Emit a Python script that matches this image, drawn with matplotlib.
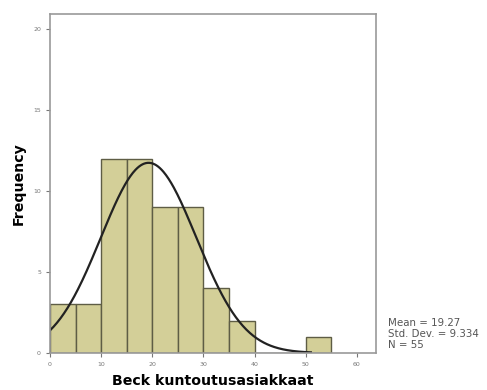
import numpy as np
import matplotlib
matplotlib.use("Agg")
import matplotlib.pyplot as plt

# histogram bins (width 5) and counts
bin_left = [0, 5, 10, 15, 20, 25, 30, 35, 40, 45, 50]
counts = [3, 3, 12, 12, 9, 9, 4, 2, 0, 0, 1]
bin_width = 5
mean, sd, n = 19.27, 9.334, 55

x_ticks = [0, 10, 20, 30, 40, 50, 60]
y_ticks = [0, 5, 10, 15, 20]

fig = plt.figure(figsize=(4.87, 3.90), dpi=100)
ax = fig.add_axes([0.1027, 0.095, 0.669, 0.869])

ax.bar(bin_left, counts, width=bin_width, align="edge",
       color="#d3cf98", edgecolor="#5e5d45", linewidth=1.0)

xs = np.linspace(0, 51, 300)
ys = n * bin_width / (sd * np.sqrt(2 * np.pi)) * np.exp(-0.5 * ((xs - mean) / sd) ** 2)
ax.plot(xs, ys, color="#222222", linewidth=1.6)

ax.set_xlim(0, 63.7)
ax.set_ylim(0, 20.95)
ax.set_xticks(x_ticks)
ax.set_yticks(y_ticks)
ax.tick_params(labelsize=4.5, colors="#777777", length=3, width=0.8)
for s in ax.spines.values():
    s.set_color("#999999")
    s.set_linewidth(1.2)

ax.set_xlabel("Beck kuntoutusasiakkaat", fontsize=10.2, fontweight="bold", labelpad=5)
ax.set_ylabel("Frequency", fontsize=10.2, fontweight="bold", labelpad=5)

fig.text(0.797, 0.1436, f"Mean = {mean}\nStd. Dev. = {sd}\nN = {n}",
         fontsize=7.4, color="#555555", va="center", ha="left", linespacing=1.15)

fig.savefig("out.png", dpi=100)
